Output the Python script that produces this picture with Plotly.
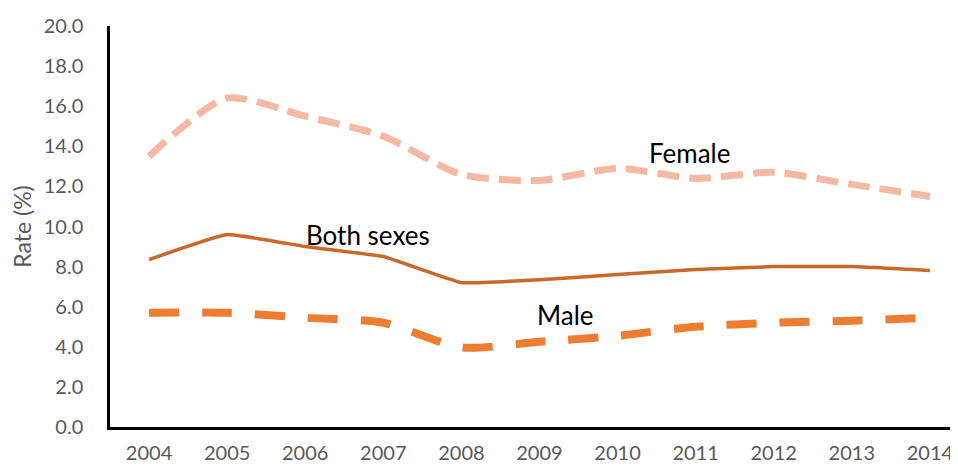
import plotly.graph_objects as go

years = ["2004", "2005", "2006", "2007", "2008", "2009", "2010", "2011", "2012", "2013", "2014"]
female = [13.5, 16.4, 15.5, 14.5, 12.6, 12.3, 12.9, 12.4, 12.7, 12.1, 11.5]
both_sexes = [8.35, 9.6, 9.0, 8.5, 7.2, 7.35, 7.6, 7.85, 8.0, 8.0, 7.8]
male = [5.7, 5.7, 5.45, 5.2, 3.97, 4.25, 4.55, 5.0, 5.2, 5.3, 5.45]

FONT = "Lato, Calibri, sans-serif"
GREY = "#595959"

fig = go.Figure()
fig.add_trace(go.Scatter(
    x=years, y=female, mode="lines", name="Female",
    line=dict(color="#F4B9A2", width=7, dash="22px,10px", shape="spline", smoothing=0.7),
))
fig.add_trace(go.Scatter(
    x=years, y=both_sexes, mode="lines", name="Both sexes",
    line=dict(color="#C8682B", width=3.5, shape="spline", smoothing=0.3),
))
fig.add_trace(go.Scatter(
    x=years, y=male, mode="lines", name="Male",
    line=dict(color="#ED7D31", width=8, dash="30px,23px", shape="spline", smoothing=0.7),
))

# series labels placed in data coordinates
labels = [("Female", 6.92, 13.65), ("Both sexes", 2.8, 9.6), ("Male", 5.33, 5.6)]
for text, xi, yi in labels:
    fig.add_annotation(x=xi, y=yi, xref="x", yref="y", text=text, showarrow=False,
                       font=dict(family=FONT, size=26, color="black"))

# the page body adds an 8px margin, so the figure is 8px smaller than the window
fig.update_layout(
    width=950, height=460,
    margin=dict(l=102, r=0, t=18, b=41),
    paper_bgcolor="white", plot_bgcolor="white",
    showlegend=False,
    font=dict(family=FONT, size=19, color=GREY),
)
fig.update_xaxes(
    type="category", range=[-0.5, 10.36], automargin=False,
    showline=True, linecolor="black", linewidth=2.5,
    showgrid=False, ticks="", ticklabelstandoff=6,
    tickfont=dict(family=FONT, size=20, color=GREY),
)
fig.update_yaxes(
    range=[0, 20], dtick=2, tickformat=".1f", automargin=False,
    showline=True, linecolor="black", linewidth=2.5,
    showgrid=False, zeroline=False, ticks="", ticklabelstandoff=20,
    tickfont=dict(family=FONT, size=20, color=GREY),
    title=dict(text="Rate (%)", standoff=8, font=dict(family=FONT, size=23, color=GREY)),
)

fig.write_html("out.html")
